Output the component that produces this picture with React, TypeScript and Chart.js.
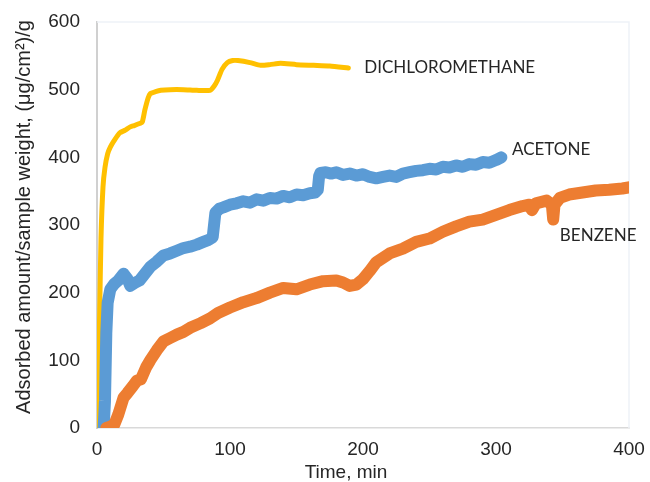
import React, { useEffect, useRef } from "react";
import { Chart, registerables } from "chart.js";

Chart.register(...registerables);

// Time (min) and adsorbed amount values
const dcmTime = [0, 1, 2, 3, 4.5, 6, 8, 10, 13, 17, 21, 25, 28, 32, 34, 36, 38.5, 40, 44, 48, 55, 65, 75, 85, 88, 90.6, 94, 98, 102, 106, 115, 123, 130, 138, 150, 163, 175, 189];
const dcmValue = [0, 60, 170, 280, 356, 385, 405, 415, 425, 436, 440, 445, 447, 450, 452, 470, 488, 494, 497, 499, 500, 500, 499, 499, 505, 514, 530, 540, 543, 543, 540, 536, 537, 539, 537, 536, 535, 532];

const acetoneTime = [5, 6, 7, 8, 10, 13, 16, 20, 23, 25, 28, 32, 36, 40, 45, 50, 55, 60, 65, 70, 75, 80, 84, 87, 88, 89, 92, 95, 100, 105, 110, 115, 120, 125, 130, 135, 140, 145, 150, 155, 160, 164, 166, 167, 168, 172, 176, 180, 185, 190, 195, 200, 205, 210, 215, 220, 225, 230, 235, 240, 245, 250, 255, 260, 265, 270, 275, 280, 285, 290, 295, 300, 304];
const acetoneValue = [0, 40, 140, 185, 205, 213, 218, 228, 220, 210, 214, 218, 228, 238, 246, 255, 258, 262, 266, 268, 271, 275, 278, 282, 300, 318, 324, 326, 330, 332, 335, 333, 338, 336, 340, 339, 343, 341, 345, 344, 347, 348, 352, 372, 377, 378, 376, 378, 374, 376, 373, 375, 371, 369, 371, 373, 371, 376, 378, 380, 381, 383, 382, 386, 385, 388, 386, 390, 389, 393, 392, 396, 400];

const benzeneTime = [7, 10, 13, 16, 20, 23, 27, 30, 33, 37, 40, 45, 50, 55, 60, 65, 70, 78, 85, 91, 100, 110, 120, 130, 140, 150, 160, 170, 180, 185, 190, 195, 200, 205, 210, 220, 230, 240, 250, 260, 270, 280, 290, 300, 310, 320, 325, 327, 330, 338, 342, 343, 344, 348, 355, 365, 375, 385, 395, 401];
const benzeneValue = [0, 2, 5, 20, 45, 52, 62, 70, 72, 90, 100, 115, 128, 133, 138, 142, 148, 155, 162, 170, 178, 186, 192, 200, 207, 205, 212, 217, 218, 215, 210, 212, 220, 232, 245, 258, 265, 275, 280, 290, 298, 305, 308, 315, 322, 328, 330, 322, 332, 336, 330, 308, 330, 340, 345, 348, 351, 352, 354, 356];

const xTicks = [0, 100, 200, 300, 400];
const yTicks = [0, 100, 200, 300, 400, 500, 600];

const seriesLabels = ["DICHLOROMETHANE", "ACETONE", "BENZENE"];
// anchor (data coordinates) for the inline series labels
const labelAnchorX = [201, 312, 348];
const labelAnchorY = [533, 412, 285];

const yTitle = "Adsorbed amount/sample weight, (\u03bcg/cm\u00b2)/g";
const xTitle = "Time, min";

const toPoints = (xs: number[], ys: number[]) => xs.map((x, i) => ({ x, y: ys[i] }));

const zeroPadding = (s: any) => {
  s.paddingTop = 0;
  s.paddingBottom = 0;
  s.paddingLeft = 0;
  s.paddingRight = 0;
};

export default function App() {
  const ref = useRef<HTMLCanvasElement | null>(null);

  useEffect(() => {
    document.body.style.margin = "0";
    const canvas = ref.current;
    if (!canvas) return;

    const tickFont = { family: "'Liberation Sans', Arial, sans-serif", size: 19 };
    const tickColor = "#262626";

    const decor = {
      id: "decor",
      beforeDatasetsDraw(chart: any) {
        const { ctx, chartArea } = chart;
        ctx.save();
        ctx.strokeStyle = "#eef2f8";
        ctx.lineWidth = 1.5;
        ctx.beginPath();
        ctx.moveTo(chartArea.left, chartArea.top);
        ctx.lineTo(chartArea.right, chartArea.top);
        ctx.lineTo(chartArea.right, chartArea.bottom);
        ctx.stroke();
        ctx.restore();
      },
      afterDraw(chart: any) {
        const { ctx, scales } = chart;
        ctx.save();
        ctx.fillStyle = "#262626";
        ctx.font = "20px 'Liberation Sans', Arial, sans-serif";
        ctx.textAlign = "center";
        ctx.textBaseline = "middle";
        ctx.save();
        ctx.translate(24, 217);
        ctx.rotate(-Math.PI / 2);
        ctx.fillText(yTitle, 0, 0);
        ctx.restore();
        ctx.font = "19px 'Liberation Sans', Arial, sans-serif";
        ctx.fillText(xTitle, 346, 473);

        ctx.font = "17px Lato, 'Noto Sans', sans-serif";
        ctx.fillStyle = "#262626";
        ctx.textAlign = "left";
        seriesLabels.forEach((t, i) => {
          const px = scales.x.getPixelForValue(labelAnchorX[i]);
          const py = scales.y.getPixelForValue(labelAnchorY[i]);
          ctx.fillText(t, px, py);
        });
        ctx.restore();
      },
    };

    const chart = new Chart(canvas, {
      type: "line",
      data: {
        datasets: [
          {
            label: seriesLabels[2],
            data: toPoints(benzeneTime, benzeneValue),
            borderColor: "#ED7D31",
            borderWidth: 12,
            tension: 0,
          },
          {
            label: seriesLabels[1],
            data: toPoints(acetoneTime, acetoneValue),
            borderColor: "#5B9BD5",
            borderWidth: 12,
            tension: 0,
          },
          {
            label: seriesLabels[0],
            data: toPoints(dcmTime, dcmValue),
            borderColor: "#FFC000",
            borderWidth: 5,
            tension: 0.2,
          },
        ],
      },
      options: {
        responsive: false,
        maintainAspectRatio: false,
        animation: false,
        elements: {
          point: { radius: 0 },
          line: { borderJoinStyle: "round", borderCapStyle: "round", fill: false },
        },
        layout: { autoPadding: false, padding: { top: 22, right: 21, left: 0, bottom: 0 } },
        plugins: { legend: { display: false }, tooltip: { enabled: false } },
        scales: {
          x: {
            type: "linear",
            min: 0,
            max: 400,
            afterBuildTicks: (s: any) => {
              s.ticks = xTicks.map((v) => ({ value: v }));
            },
            ticks: { font: tickFont, color: tickColor, padding: 10, maxRotation: 0 },
            grid: { display: false, drawTicks: false },
            border: { color: "#d9d9d9", width: 1.5 },
            afterFit: (s: any) => {
              s.height = 54;
              zeroPadding(s);
            },
          },
          y: {
            type: "linear",
            min: 0,
            max: 600,
            afterBuildTicks: (s: any) => {
              s.ticks = yTicks.map((v) => ({ value: v }));
            },
            ticks: { font: tickFont, color: tickColor, padding: 17 },
            grid: { display: false, drawTicks: false },
            border: { color: "#d0d0d0", width: 2 },
            afterFit: (s: any) => {
              s.width = 97;
              zeroPadding(s);
            },
          },
        },
      },
      plugins: [decor],
    });

    return () => chart.destroy();
  }, []);

  return (
    <div style={{ width: 650, height: 482, background: "#ffffff" }}>
      <canvas ref={ref} width={650} height={482} style={{ display: "block" }} />
    </div>
  );
}
